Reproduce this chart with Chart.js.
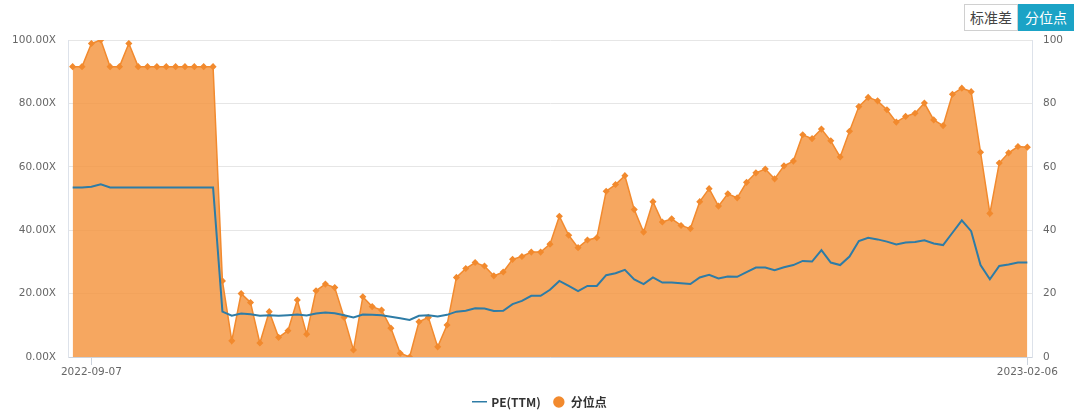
<!DOCTYPE html>
<html>
<head>
<meta charset="utf-8">
<script src="https://cdn.jsdelivr.net/npm/chart.js@4.4.0/dist/chart.umd.min.js"></script>
<style>
  body { margin: 0; background: #fff; }
  #wrap { position: relative; width: 1080px; height: 418px; }
  #c { position: absolute; left: 0; top: 0; }
  .btns { position: absolute; top: 4px; left: 964px; display: flex; font-family: "Noto Sans CJK SC", sans-serif; font-size: 14px; }
  .btns div { height: 25px; line-height: 25px; padding: 0 5px; border: 1px solid #d0d0d0; }
  .btns .on { background: #1ba3c6; color: #fff; border-color: #1ba3c6; padding: 0 6px; }
  .btns .off { color: #444; background: #fff; }
</style>
</head>
<body>
<div id="wrap">
  <canvas id="c" width="1080" height="418"></canvas>
  <div class="btns"><div class="off">标准差</div><div class="on">分位点</div></div>
</div>
<script>
// trading days
var dates = [
  '2022-09-05','2022-09-06','2022-09-07','2022-09-08','2022-09-09','2022-09-13','2022-09-14','2022-09-15','2022-09-16',
  '2022-09-19','2022-09-20','2022-09-21','2022-09-22','2022-09-23','2022-09-26','2022-09-27','2022-09-28','2022-09-29','2022-09-30',
  '2022-10-03','2022-10-05','2022-10-06','2022-10-07','2022-10-10','2022-10-11','2022-10-12','2022-10-13','2022-10-14',
  '2022-10-17','2022-10-18','2022-10-19','2022-10-20','2022-10-21','2022-10-24','2022-10-25','2022-10-26','2022-10-27','2022-10-28','2022-10-31',
  '2022-11-01','2022-11-02','2022-11-03','2022-11-04','2022-11-07','2022-11-08','2022-11-09','2022-11-10','2022-11-11',
  '2022-11-14','2022-11-15','2022-11-16','2022-11-17','2022-11-18','2022-11-21','2022-11-22','2022-11-23','2022-11-24','2022-11-25',
  '2022-11-28','2022-11-29','2022-11-30',
  '2022-12-01','2022-12-02','2022-12-05','2022-12-06','2022-12-07','2022-12-08','2022-12-09','2022-12-12','2022-12-13','2022-12-14',
  '2022-12-15','2022-12-16','2022-12-19','2022-12-20','2022-12-21','2022-12-22','2022-12-23','2022-12-28','2022-12-29','2022-12-30',
  '2023-01-03','2023-01-04','2023-01-05','2023-01-06','2023-01-09','2023-01-10','2023-01-11','2023-01-12','2023-01-13',
  '2023-01-16','2023-01-17','2023-01-18','2023-01-19','2023-01-20','2023-01-26','2023-01-27','2023-01-30','2023-01-31',
  '2023-02-01','2023-02-02','2023-02-03','2023-02-06'
];

var shownDates = ['2022-09-07', '2023-02-06'];

var peTTM = [
  53.5,53.5,53.7,54.5,53.5,53.5,53.5,53.5,53.5,53.5,53.5,53.5,53.5,53.5,53.5,53.5,
  14.3,13.0,13.7,13.5,13.0,13.2,13.0,13.2,13.4,13.1,
  13.7,14.0,13.8,13.2,12.5,13.4,13.3,13.2,12.7,12.2,11.7,13.0,13.2,12.8,13.3,14.3,14.6,15.4,15.3,14.5,14.6,16.7,17.7,19.3,19.3,21.2,
  24.0,22.4,20.8,22.4,22.4,25.8,26.4,27.5,24.5,23.0,25.1,23.5,23.5,23.3,23.0,25.1,25.9,24.8,25.4,25.3,26.8,28.2,28.2,27.4,
  28.3,29.0,30.3,30.1,33.7,29.8,29.0,31.7,36.6,37.6,37.1,36.4,35.5,36.1,36.3,36.8,35.8,35.3,39.2,43.1,39.7,29.0,24.5,28.7,29.2,29.8,29.8
];

var percentile = [
  91.6,91.6,98.9,100,91.6,91.6,98.9,91.6,91.6,91.6,91.6,91.6,91.6,91.6,91.6,91.6,
  24.0,5.1,20.0,17.2,4.4,14.3,6.2,8.3,18.0,7.2,
  20.9,23.0,21.9,12.5,2.2,19.0,15.9,14.8,9.1,1.2,0,11.1,12.5,3.2,10.1,25.1,27.9,29.8,28.7,25.6,26.8,30.8,31.7,33.1,33.1,35.6,
  44.4,38.4,34.5,36.9,37.6,52.3,54.4,57.2,46.5,39.4,49.0,42.6,43.6,41.5,40.5,49.0,53.1,47.6,51.5,50.2,55.1,58.1,59.3,56.2,
  60.3,61.8,70.1,68.9,71.9,68.2,63.1,71.2,79.0,81.9,80.8,78.0,74.1,75.9,76.9,80.1,74.8,73.0,82.9,84.8,83.7,64.6,45.3,61.2,64.4,66.4,66.2
];

var blue = '#2e7ca6';
var orange = '#f28a2e';

// short line icon for the PE legend entry
var lineIcon = document.createElement('canvas');
lineIcon.width = 15; lineIcon.height = 3;
var lctx = lineIcon.getContext('2d');
lctx.fillStyle = blue;
lctx.fillRect(0, 0, 15, 2);

var tickFont = { family: 'DejaVu Sans', size: 10.5 };

new Chart(document.getElementById('c'), {
  type: 'line',
  data: {
    labels: dates,
    datasets: [{
      label: 'PE(TTM)',
      data: peTTM,
      yAxisID: 'y',
      borderColor: blue,
      borderWidth: 2,
      pointRadius: 0,
      tension: 0,
      fill: false
    }, {
      label: '分位点',
      data: percentile,
      yAxisID: 'y1',
      borderColor: orange,
      borderWidth: 1.5,
      backgroundColor: 'rgba(244,150,66,0.84)',
      pointStyle: 'rectRot',
      pointRadius: 2.5,
      pointBackgroundColor: orange,
      pointBorderColor: orange,
      tension: 0,
      fill: 'origin'
    }]
  },
  options: {
    responsive: false,
    animation: false,
    layout: { padding: { top: 40, left: 0, right: 0, bottom: 0 } },
    plugins: {
      tooltip: { enabled: false },
      legend: {
        position: 'bottom',
        labels: {
          usePointStyle: true,
          boxHeight: 7,
          padding: 12,
          color: '#333',
          font: { family: 'Noto Sans CJK SC', size: 12, weight: 'bold' },
          generateLabels: function(chart) {
            var items = Chart.defaults.plugins.legend.labels.generateLabels(chart);
            items[0].pointStyle = lineIcon;
            items[1].pointStyle = 'circle';
            items[1].fillStyle = orange;
            items[1].strokeStyle = orange;
            return items;
          }
        }
      }
    },
    scales: {
      x: {
        offset: true,
        grid: { display: true, drawOnChartArea: false, drawTicks: true, tickLength: 8, color: '#ccd3dd' },
        border: { color: '#ccd3dd' },
        ticks: {
          autoSkip: false,
          maxRotation: 0,
          padding: 1,
          color: '#666',
          font: tickFont,
          callback: function(v) {
            var d = this.getLabelForValue(v);
            return shownDates.indexOf(d) >= 0 ? d : null;
          }
        },
        afterFit: function(s) { s.height = 27; }
      },
      y: {
        position: 'left',
        min: 0, max: 100,
        grid: { color: '#e6e6e6', drawTicks: false },
        border: { color: '#dde2ea' },
        ticks: {
          stepSize: 20, padding: 12, color: '#666', font: tickFont,
          callback: function(v) { return v.toFixed(2) + 'X'; }
        },
        afterFit: function(s) { s.width = 68; }
      },
      y1: {
        position: 'right',
        min: 0, max: 100,
        grid: { display: false, drawTicks: false },
        border: { color: '#dde2ea' },
        ticks: { stepSize: 20, padding: 11, color: '#666', font: tickFont },
        afterFit: function(s) { s.width = 48; }
      }
    }
  }
});
</script>
</body>
</html>
